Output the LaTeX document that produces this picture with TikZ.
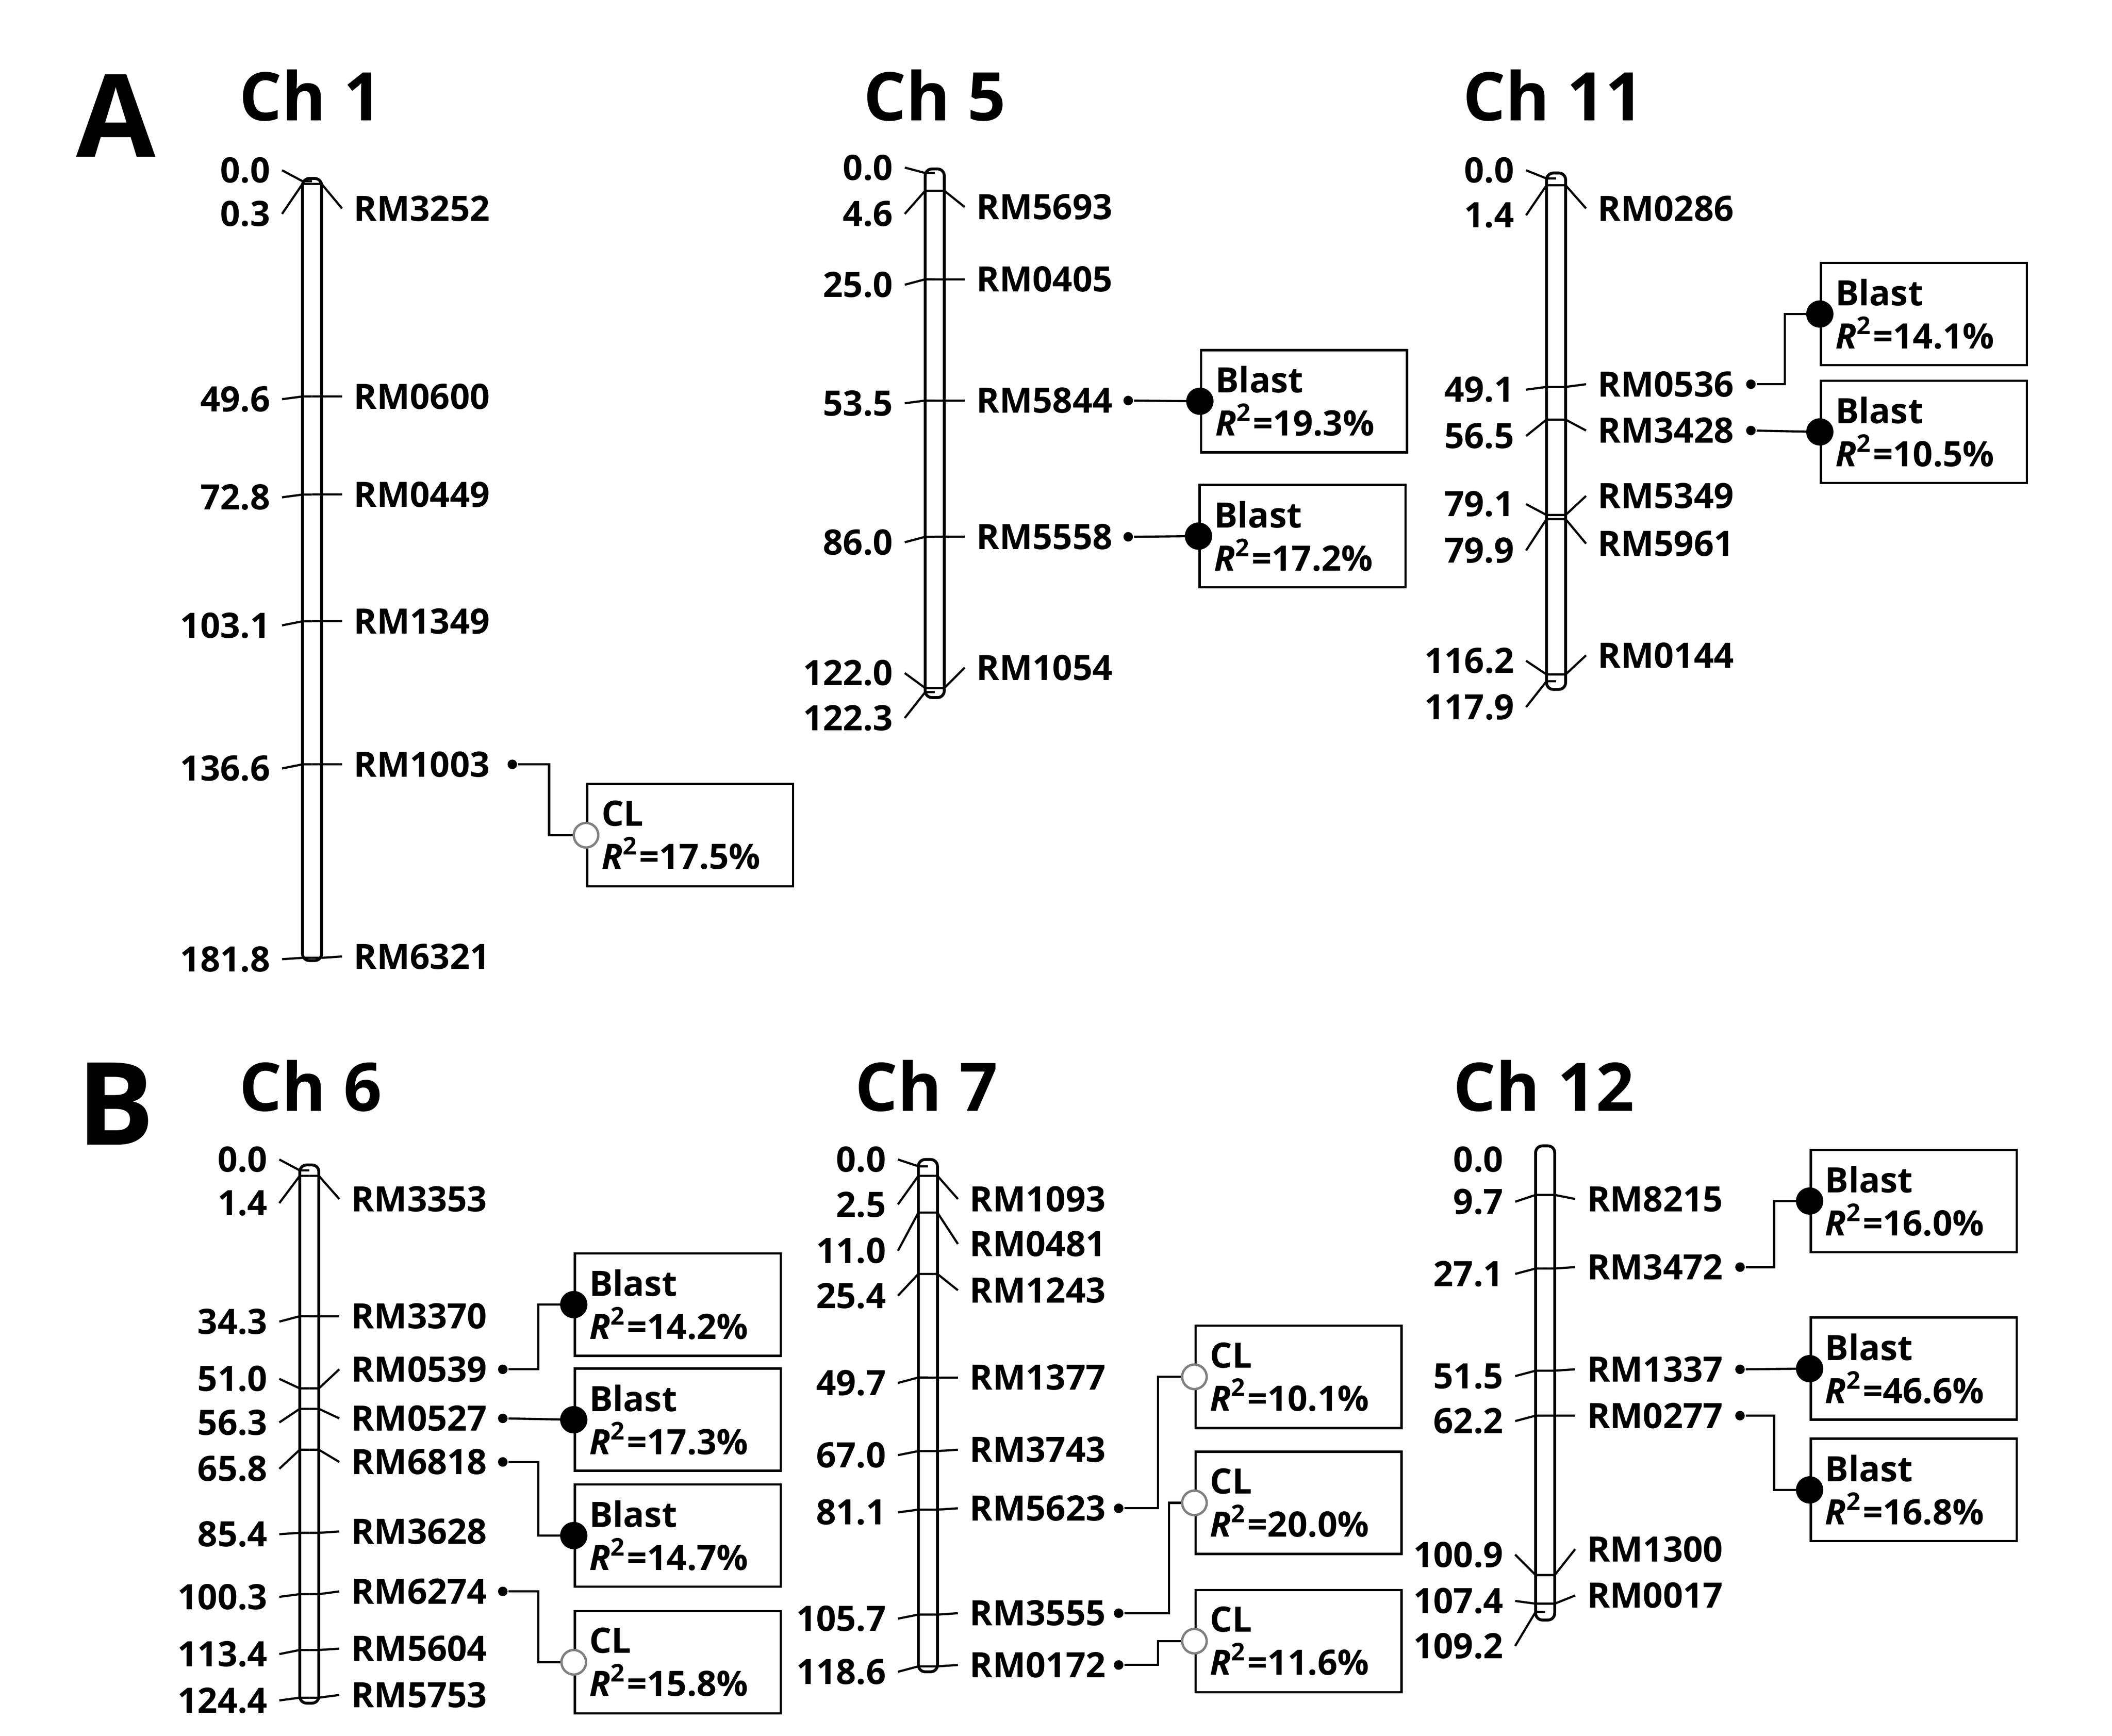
\documentclass[tikz,border=0pt]{standalone}
\usepackage{fontspec}
\setmainfont{Open Sans}
\begin{document}
\begin{tikzpicture}[x=0.01cm,y=-0.01cm,
  lab/.style={font=\fontsize{7.3}{8.8}\selectfont\bfseries,inner sep=0pt},
  ttl/.style={font=\fontsize{14}{16}\selectfont\bfseries,inner sep=0pt},
  chrom/.style={draw,line width=0.6pt,rounded corners=0.05cm},
  tick/.style={line width=0.45pt},
  box/.style={draw,line width=0.5pt,minimum width=1.51cm,minimum height=0.75cm,text width=1.3cm,align=left,inner sep=0pt,font=\fontsize{7.3}{9}\selectfont\bfseries},
  con/.style={line width=0.45pt},
  sdot/.style={circle,fill,inner sep=0pt,minimum size=0.07cm},
  bdot/.style={circle,fill,inner sep=0pt,minimum size=0.2cm},
  odot/.style={circle,draw=gray,fill=white,line width=0.5pt,inner sep=0pt,minimum size=0.18cm}]
\useasboundingbox (0,0) rectangle (1550,1274);
% left label: cx yc yl text name
\newcommand\LL[5]{%
  \draw[tick] (#1-22,#3) -- (#1-7,#2) -- (#1,#2);
  \node[lab,anchor=east] (#5) at (#1-30,#3) {#4};}
% right label: cx yc text yr name
\newcommand\RL[5]{%
  \draw[tick] (#1,#2) -- (#1+7,#2) -- (#1+22,#4);
  \node[lab,anchor=west] (#5) at (#1+30,#4) {#3};}
% cx yc yl ltext rtext name yr
\newcommand\MK[7]{\LL{#1}{#2}{#3}{#4}{#6l}\RL{#1}{#2}{#5}{#7}{#6r}}
\newcommand\Rsq[1]{\textit{R}\textsuperscript{2}=#1}

\node[font=\fontsize{24}{26}\selectfont\bfseries,inner sep=0pt] (A) at (85,85) {A};
\node[font=\fontsize{24}{26}\selectfont\bfseries,inner sep=0pt] (B) at (85,810) {B};

% ---------- Ch1
\node[ttl] (t1) at (228,70) {Ch 1};
\draw[chrom,fill=white] (222,131) rectangle (236,705);
\LL{229}{133}{125}{0.0}{a0l}
\MK{229}{135}{157}{0.3}{RM3252}{a1}{153}
\MK{229}{291}{293}{49.6}{RM0600}{a2}{291}
\MK{229}{363}{365}{72.8}{RM0449}{a3}{363}
\MK{229}{456}{459}{103.1}{RM1349}{a4}{456}
\MK{229}{561}{564}{136.6}{RM1003}{a5}{561}
\MK{229}{703}{704}{181.8}{RM6321}{a6}{702}
\node[sdot] (d1) at (376,561) {};
\node[box] (b1) at (506.5,613) {CL\\\Rsq{17.5\%}};
\draw[con] (d1) -- ++(27,0) |- (b1.west);
\node[odot] at (b1.west) {};

% ---------- Ch5
\node[ttl] (t5) at (686,70) {Ch 5};
\draw[chrom,fill=white] (679,124) rectangle (693,512);
\LL{686}{127}{123}{0.0}{c0l}
\MK{686}{140}{157}{4.6}{RM5693}{c1}{152}
\MK{686}{205}{209}{25.0}{RM0405}{c2}{205}
\MK{686}{294}{296}{53.5}{RM5844}{c3}{294}
\MK{686}{394}{398}{86.0}{RM5558}{c4}{394}
\MK{686}{505}{494}{122.0}{RM1054}{c5}{490}
\LL{686}{508}{527}{122.3}{c6l}
\node[sdot] (d2) at (828,294) {};
\node[box] (b2) at (957,294.5) {Blast\\\Rsq{19.3\%}};
\draw[con] (d2) -- (b2.west); \node[bdot] at (b2.west) {};
\node[sdot] (d3) at (828,394) {};
\node[box] (b3) at (956,393.5) {Blast\\\Rsq{17.2\%}};
\draw[con] (d3) -- (b3.west); \node[bdot] at (b3.west) {};

% ---------- Ch11
\node[ttl] (t11) at (1140,70) {Ch 11};
\draw[chrom,fill=white] (1135,127) rectangle (1149,506);
\LL{1142}{131}{125}{0.0}{e0l}
\MK{1142}{136}{158}{1.4}{RM0286}{e1}{153}
\MK{1142}{284}{286}{49.1}{RM0536}{e2}{282}
\MK{1142}{308}{320}{56.5}{RM3428}{e3}{316}
\MK{1142}{378}{370}{79.1}{RM5349}{e4}{364}
\MK{1142}{381}{404}{79.9}{RM5961}{e5}{399}
\MK{1142}{495}{485}{116.2}{RM0144}{e6}{481}
\LL{1142}{500}{519}{117.9}{e7l}
\node[sdot] (d4) at (1285,282) {};
\node[box] (b4) at (1412,230.5) {Blast\\\Rsq{14.1\%}};
\draw[con] (d4) -- ++(25,0) |- (b4.west); \node[bdot] at (b4.west) {};
\node[sdot] (d5) at (1285,316) {};
\node[box] (b5) at (1412,317) {Blast\\\Rsq{10.5\%}};
\draw[con] (d5) -- (b5.west); \node[bdot] at (b5.west) {};

% ---------- Ch6
\node[ttl] (t6) at (228,797) {Ch 6};
\draw[chrom,fill=white] (220,855) rectangle (234,1250);
\LL{227}{859}{851}{0.0}{f0l}
\MK{227}{863}{883}{1.4}{RM3353}{f1}{880}
\MK{227}{966}{970}{34.3}{RM3370}{f2}{966}
\MK{227}{1019}{1012}{51.0}{RM0539}{f3}{1005}
\MK{227}{1034}{1044}{56.3}{RM0527}{f4}{1041}
\MK{227}{1064}{1078}{65.8}{RM6818}{f5}{1073}
\MK{227}{1125}{1126}{85.4}{RM3628}{f6}{1124}
\MK{227}{1170}{1172}{100.3}{RM6274}{f7}{1168}
\MK{227}{1211}{1214}{113.4}{RM5604}{f8}{1210}
\MK{227}{1246}{1248}{124.4}{RM5753}{f9}{1244}
\node[sdot] (d6) at (369,1005) {};
\node[box] (b6) at (497.5,957.5) {Blast\\\Rsq{14.2\%}};
\draw[con] (d6) -- ++(26,0) |- (b6.west); \node[bdot] at (b6.west) {};
\node[sdot] (d7) at (369,1041) {};
\node[box] (b7) at (497.5,1042) {Blast\\\Rsq{17.3\%}};
\draw[con] (d7) -- (b7.west); \node[bdot] at (b7.west) {};
\node[sdot] (d8) at (369,1073) {};
\node[box] (b8) at (497.5,1127) {Blast\\\Rsq{14.7\%}};
\draw[con] (d8) -- ++(26,0) |- (b8.west); \node[bdot] at (b8.west) {};
\node[sdot] (d9) at (369,1168) {};
\node[box] (b9) at (497.5,1220) {CL\\\Rsq{15.8\%}};
\draw[con] (d9) -- ++(26,0) |- (b9.west); \node[odot] at (b9.west) {};

% ---------- Ch7
\node[ttl] (t7) at (680,797) {Ch 7};
\draw[chrom,fill=white] (674,851) rectangle (688,1227);
\LL{681}{856}{851}{0.0}{g0l}
\MK{681}{863}{884}{2.5}{RM1093}{g1}{880}
\MK{681}{890}{918}{11.0}{RM0481}{g2}{913}
\MK{681}{935}{951}{25.4}{RM1243}{g3}{947}
\MK{681}{1011}{1015}{49.7}{RM1377}{g4}{1011}
\MK{681}{1065}{1068}{67.0}{RM3743}{g5}{1064}
\MK{681}{1108}{1110}{81.1}{RM5623}{g6}{1107}
\MK{681}{1185}{1188}{105.7}{RM3555}{g7}{1184}
\MK{681}{1223}{1227}{118.6}{RM0172}{g8}{1222}
\node[sdot] (d10) at (821,1107) {};
\node[box] (b10) at (953,1010.5) {CL\\\Rsq{10.1\%}};
\draw[con] (d10) -- ++(29,0) |- (b10.west); \node[odot] at (b10.west) {};
\node[sdot] (d11) at (821,1184) {};
\node[box] (b11) at (953,1103) {CL\\\Rsq{20.0\%}};
\draw[con] (d11) -- ++(37,0) |- (b11.west); \node[odot] at (b11.west) {};
\node[sdot] (d12) at (821,1222) {};
\node[box] (b12) at (953,1204.5) {CL\\\Rsq{11.6\%}};
\draw[con] (d12) -- ++(29,0) |- (b12.west); \node[odot] at (b12.west) {};

% ---------- Ch12
\node[ttl] (t12) at (1133,797) {Ch 12};
\draw[chrom,fill=white] (1127,841) rectangle (1141,1189);
\node[lab,anchor=east] (h0l) at (1104,851) {0.0};
\MK{1134}{877}{882}{9.7}{RM8215}{h1}{880}
\MK{1134}{931}{935}{27.1}{RM3472}{h2}{930}
\MK{1134}{1006}{1010}{51.5}{RM1337}{h3}{1005}
\MK{1134}{1039}{1043}{62.2}{RM0277}{h4}{1039}
\MK{1134}{1156}{1141}{100.9}{RM1300}{h5}{1137}
\MK{1134}{1177}{1175}{107.4}{RM0017}{h6}{1171}
\LL{1134}{1183}{1208}{109.2}{h7l}
\node[sdot] (d13) at (1277,930) {};
\node[box] (b13) at (1404.5,881.5) {Blast\\\Rsq{16.0\%}};
\draw[con] (d13) -- ++(25,0) |- (b13.west); \node[bdot] at (b13.west) {};
\node[sdot] (d14) at (1277,1005) {};
\node[box] (b14) at (1404.5,1004.5) {Blast\\\Rsq{46.6\%}};
\draw[con] (d14) -- (b14.west); \node[bdot] at (b14.west) {};
\node[sdot] (d15) at (1277,1039) {};
\node[box] (b15) at (1404.5,1093.5) {Blast\\\Rsq{16.8\%}};
\draw[con] (d15) -- ++(25,0) |- (b15.west); \node[bdot] at (b15.west) {};
\end{tikzpicture}
\end{document}
